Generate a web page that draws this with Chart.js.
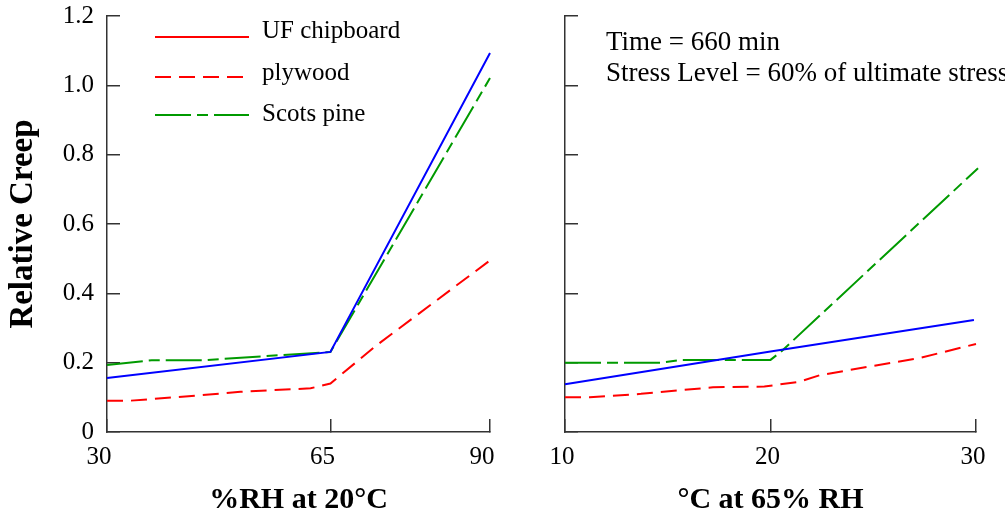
<!DOCTYPE html>
<html>
<head>
<meta charset="utf-8">
<script src="https://cdn.jsdelivr.net/npm/chart.js@4.4.0/dist/chart.umd.min.js"></script>
<style>
  html, body { margin: 0; padding: 0; background: #fff; }
  #wrap { position: relative; width: 1005px; height: 518px; overflow: hidden; }
  canvas { position: absolute; top: 0; }
  #rh { left: 0; }
  #temp { left: 540px; }
</style>
</head>
<body>
<div id="wrap">
  <canvas id="rh" width="540" height="518"></canvas>
  <canvas id="temp" width="465" height="518"></canvas>
</div>
<script>
/* global Chart */

const seriesNames = ['UF chipboard', 'plywood', 'Scots pine'];
const rhTicks = [30, 65, 90];
const tempTicks = [10, 20, 30];
const creepTicks = [0, 0.2, 0.4, 0.6, 0.8, 1.0, 1.2];

// left panel: creep against %RH at 20°C
const chipRH = [30, 65, 90];
const chipRHCreep = [0.156, 0.231, 1.093];
const plyRH = [30, 33.4, 44.1, 50.9, 61.9, 65, 72.3, 90.5];
const plyRHCreep = [0.09, 0.09, 0.105, 0.116, 0.126, 0.14, 0.251, 0.502];
const pineRH = [30, 37, 45, 65, 90];
const pineRHCreep = [0.193, 0.207, 0.207, 0.231, 1.021];

// right panel: creep against °C at 65% RH
const chipT = [10, 20, 29.9];
const chipTCreep = [0.138, 0.232, 0.323];
const plyT = [10, 11.2, 13.7, 17.2, 19.7, 21.4, 22.4, 27.3, 30];
const plyTCreep = [0.1, 0.1, 0.11, 0.129, 0.131, 0.145, 0.164, 0.214, 0.254];
const pineT = [10, 14.7, 15.7, 20, 20.5, 30.1];
const pineTCreep = [0.2, 0.2, 0.208, 0.208, 0.231, 0.761];

const noteLines = ['Time = 660 min', 'Stress Level = 60% of ultimate stress'];

const SERIF = "'Liberation Serif', 'Times New Roman', serif";
const AXIS = '#333';
// the legend shows UF chipboard in red, the plotted line is blue
const styles = [
  { color: '#0000ff', legendColor: '#ff0000', dash: [] },
  { color: '#ff0000', dash: [16, 8] },
  { color: '#009a00', dash: [36, 6, 11, 6] },
];

const xy = (xs, ys) => xs.map((x, i) => ({ x, y: ys[i] }));

function makeDatasets(pairs) {
  return pairs.map((p, i) => ({
    label: seriesNames[i],
    data: xy(p[0], p[1]),
    borderColor: styles[i].color,
    legendColor: styles[i].legendColor || styles[i].color,
    borderDash: styles[i].dash,
    borderWidth: 2,
    pointRadius: 0,
    tension: 0,
    clip: false,
  }));
}

// drop the label overflow padding so the plot box sits where the layout says
function noPad(s) {
  s.paddingTop = 0;
  s.paddingBottom = 0;
  s.paddingLeft = 0;
  s.paddingRight = 0;
}

function makeScales(xTicks, xTitle, yWidth, showYLabels, labelOffset) {
  return {
    x: {
      type: 'linear',
      min: xTicks[0],
      max: xTicks[xTicks.length - 1],
      afterBuildTicks: (s) => { s.ticks = xTicks.map((v) => ({ value: v })); },
      afterFit: (s) => { s.height = 86; noPad(s); },
      border: { display: true, color: AXIS, width: 1.5 },
      grid: { drawOnChartArea: false, tickLength: -13, color: AXIS, lineWidth: 1.5 },
      ticks: {
        color: '#000', font: { family: SERIF, size: 25 }, padding: 23,
        maxRotation: 0, labelOffset, callback: (v) => String(v),
      },
      title: {
        display: true, text: xTitle, color: '#000',
        font: { family: SERIF, size: 30, weight: 'bold' }, padding: { top: 0, bottom: 0 },
      },
    },
    y: {
      type: 'linear',
      min: 0,
      max: 1.2,
      afterBuildTicks: (s) => { s.ticks = creepTicks.map((v) => ({ value: v })); },
      afterFit: (s) => { s.width = yWidth; noPad(s); },
      border: { display: true, color: AXIS, width: 1.5 },
      grid: { drawOnChartArea: false, tickLength: -13, color: AXIS, lineWidth: 1.5 },
      ticks: {
        display: showYLabels, color: '#000', font: { family: SERIF, size: 25 }, padding: 26,
        callback: (v) => (v === 0 ? '0' : v.toFixed(1)),
      },
      title: {
        display: showYLabels, text: 'Relative Creep', color: '#000',
        font: { family: SERIF, size: 33, weight: 'bold' }, padding: { top: 4, bottom: 0 },
      },
    },
  };
}

const insideLegend = {
  id: 'insideLegend',
  afterDraw(chart) {
    const { ctx, chartArea } = chart;
    const rows = [31.5, 73, 114.5];
    const lineShift = [5.5, 4, 0.5];
    ctx.save();
    ctx.font = `25px ${SERIF}`;
    ctx.textBaseline = 'middle';
    ctx.fillStyle = '#000';
    chart.data.datasets.forEach((ds, i) => {
      const y = rows[i];
      ctx.strokeStyle = ds.legendColor;
      ctx.lineWidth = 2;
      ctx.setLineDash(ds.borderDash);
      ctx.beginPath();
      ctx.moveTo(chartArea.left + 48, y + lineShift[i]);
      ctx.lineTo(chartArea.left + 142, y + lineShift[i]);
      ctx.stroke();
      ctx.fillText(ds.label, chartArea.left + 155, y);
    });
    ctx.restore();
  },
};

const note = {
  id: 'note',
  afterDraw(chart) {
    const { ctx, chartArea } = chart;
    ctx.save();
    ctx.font = `27px ${SERIF}`;
    ctx.textBaseline = 'middle';
    ctx.fillStyle = '#000';
    noteLines.forEach((t, i) => ctx.fillText(t, chartArea.left + 41, 43 + i * 31));
    ctx.restore();
  },
};

const common = {
  responsive: false,
  animation: false,
  devicePixelRatio: 1,
  plugins: { legend: { display: false }, tooltip: { enabled: false } },
};

new Chart(document.getElementById('rh'), {
  type: 'line',
  data: {
    datasets: makeDatasets([[chipRH, chipRHCreep], [plyRH, plyRHCreep], [pineRH, pineRHCreep]]),
  },
  options: {
    ...common,
    layout: { padding: { left: 0, top: 16, right: 50, bottom: 0 } },
    scales: makeScales(rhTicks, '%RH at 20°C', 107, true, -8),
  },
  plugins: [insideLegend],
});

new Chart(document.getElementById('temp'), {
  type: 'line',
  data: {
    datasets: makeDatasets([[chipT, chipTCreep], [plyT, plyTCreep], [pineT, pineTCreep]]),
  },
  options: {
    ...common,
    layout: { padding: { left: 0, top: 16, right: 29, bottom: 0 } },
    scales: makeScales(tempTicks, '°C at 65% RH', 25, false, -3),
  },
  plugins: [note],
});
</script>
</body>
</html>
